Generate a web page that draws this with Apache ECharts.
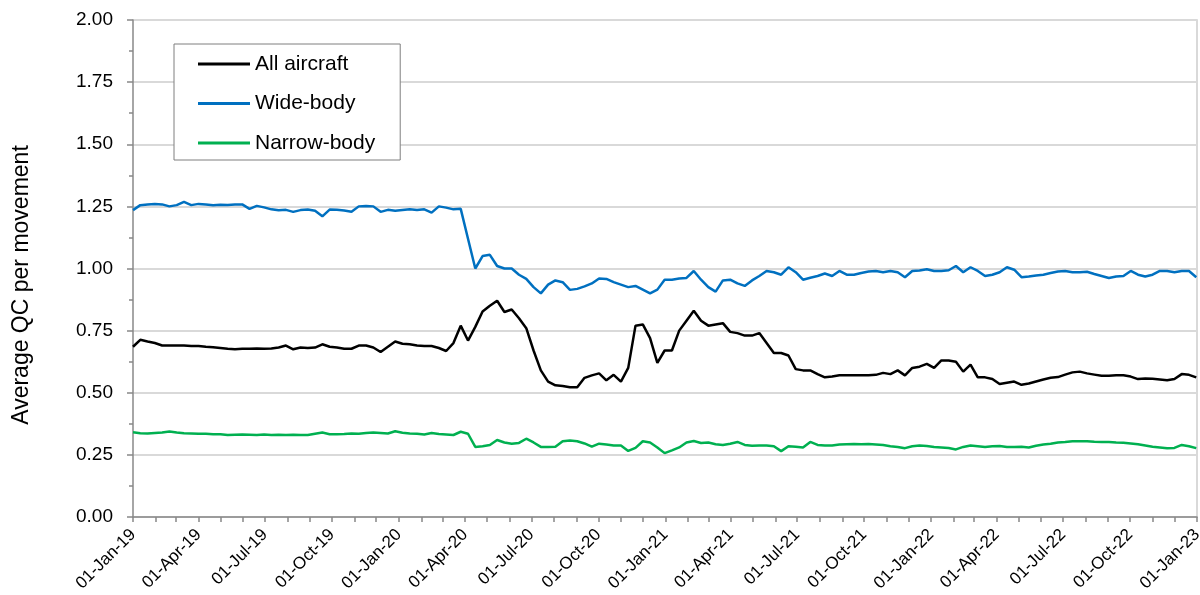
<!DOCTYPE html>
<html><head><meta charset="utf-8">
<script src="https://cdn.jsdelivr.net/npm/echarts@6/dist/echarts.min.js"></script>
<style>html,body{margin:0;padding:0;background:#fff}#c{width:1200px;height:595px}</style>
</head><body><div id="c"></div>
<script>
// Day offsets from 01-Jan-2019 (every 10 days)
const sampleDays = [0,10,20,30,40,50,60,70,80,90,100,110,120,130,140,150,160,170,180,190,
200,210,220,230,240,250,260,270,280,290,300,310,320,330,340,350,360,370,380,390,
400,410,420,430,440,450,460,470,480,490,500,510,520,530,540,550,560,570,580,590,
600,610,620,630,640,650,660,670,680,690,700,710,720,730,740,750,760,770,780,790,
800,810,820,830,840,850,860,870,880,890,900,910,920,930,940,950,960,970,980,990,
1000,1010,1020,1030,1040,1050,1060,1070,1080,1090,1100,1110,1120,1130,1140,1150,1160,1170,1180,1190,
1200,1210,1220,1230,1240,1250,1260,1270,1280,1290,1300,1310,1320,1330,1340,1350,1360,1370,1380,1390,
1400,1410,1420,1430,1440,1450,1460];

const allAircraft = [0.685,0.713,0.706,0.70,0.69,0.69,0.69,0.69,0.688,0.688,
0.685,0.683,0.68,0.677,0.675,0.677,0.677,0.678,0.677,0.678,
0.682,0.69,0.675,0.682,0.68,0.682,0.695,0.685,0.682,0.677,
0.677,0.69,0.69,0.682,0.664,0.685,0.706,0.697,0.695,0.69,
0.688,0.688,0.68,0.668,0.70,0.77,0.71,0.765,0.827,0.85,
0.87,0.825,0.835,0.80,0.76,0.67,0.59,0.545,0.53,0.527,
0.522,0.522,0.56,0.57,0.578,0.55,0.572,0.545,0.60,0.77,
0.775,0.72,0.62,0.67,0.67,0.75,0.79,0.83,0.79,0.77,
0.775,0.78,0.745,0.74,0.73,0.73,0.74,0.70,0.66,0.66,
0.65,0.595,0.59,0.59,0.575,0.562,0.565,0.57,0.57,0.57,
0.57,0.57,0.572,0.58,0.575,0.59,0.57,0.60,0.605,0.616,
0.60,0.63,0.63,0.625,0.585,0.613,0.562,0.562,0.555,0.535,
0.54,0.545,0.532,0.537,0.545,0.553,0.56,0.563,0.573,0.582,
0.585,0.578,0.573,0.568,0.568,0.57,0.57,0.565,0.555,0.557,
0.556,0.553,0.55,0.555,0.575,0.572,0.562];

const wideBody = [1.235,1.255,1.258,1.26,1.258,1.25,1.255,1.268,1.255,1.26,
1.258,1.255,1.257,1.256,1.258,1.258,1.24,1.252,1.246,1.238,
1.234,1.236,1.228,1.235,1.237,1.232,1.21,1.237,1.236,1.233,
1.228,1.25,1.252,1.25,1.228,1.236,1.232,1.235,1.238,1.235,
1.238,1.225,1.25,1.245,1.238,1.24,1.12,1.0,1.05,1.055,
1.01,1.0,1.0,0.975,0.958,0.925,0.9,0.935,0.952,0.945,
0.914,0.918,0.928,0.94,0.96,0.958,0.945,0.935,0.925,0.93,
0.915,0.9,0.915,0.955,0.955,0.96,0.962,0.99,0.955,0.925,
0.907,0.952,0.955,0.94,0.93,0.952,0.97,0.99,0.985,0.975,
1.005,0.985,0.955,0.963,0.97,0.98,0.97,0.99,0.975,0.975,
0.982,0.988,0.99,0.985,0.99,0.985,0.965,0.99,0.992,0.997,
0.99,0.99,0.993,1.01,0.985,1.005,0.99,0.97,0.975,0.985,
1.005,0.995,0.965,0.968,0.972,0.975,0.982,0.988,0.99,0.985,
0.985,0.987,0.978,0.97,0.962,0.968,0.97,0.99,0.975,0.968,
0.975,0.99,0.99,0.985,0.99,0.99,0.965];

const narrowBody = [0.341,0.337,0.336,0.338,0.34,0.344,0.34,0.337,0.336,0.335,
0.335,0.333,0.333,0.33,0.331,0.332,0.331,0.33,0.332,0.33,
0.331,0.33,0.331,0.33,0.33,0.335,0.34,0.333,0.333,0.334,
0.336,0.335,0.338,0.34,0.338,0.336,0.345,0.339,0.336,0.335,
0.332,0.338,0.334,0.332,0.33,0.343,0.335,0.282,0.285,0.29,
0.31,0.30,0.295,0.298,0.315,0.30,0.282,0.282,0.283,0.305,
0.308,0.305,0.296,0.283,0.295,0.292,0.288,0.288,0.266,0.278,
0.305,0.30,0.28,0.257,0.268,0.28,0.30,0.306,0.298,0.30,
0.293,0.29,0.295,0.302,0.29,0.287,0.288,0.288,0.285,0.265,
0.285,0.283,0.28,0.302,0.29,0.288,0.288,0.292,0.293,0.294,
0.293,0.294,0.292,0.29,0.285,0.282,0.277,0.285,0.288,0.286,
0.282,0.28,0.278,0.272,0.282,0.288,0.285,0.282,0.285,0.286,
0.282,0.282,0.283,0.28,0.287,0.292,0.295,0.30,0.302,0.305,
0.305,0.305,0.303,0.302,0.302,0.30,0.299,0.296,0.293,0.288,
0.283,0.28,0.277,0.278,0.29,0.285,0.277];

const seriesNames = ['All aircraft','Wide-body','Narrow-body'];
const yTitle = 'Average QC per movement';
const monthNames = ['Jan','Feb','Mar','Apr','May','Jun','Jul','Aug','Sep','Oct','Nov','Dec'];

const DAY = 86400000;
const tStart = new Date(2019,0,1).getTime();
const tEnd = new Date(2023,0,1).getTime();
const toPairs = vals => vals.map((v,i) => [tStart + sampleDays[i]*DAY, v]);
const fmtDate = val => {
  const d = new Date(val);
  const dd = String(d.getDate()).padStart(2,'0');
  return dd + '-' + monthNames[d.getMonth()] + '-' + String(d.getFullYear()).slice(2);
};

const FONT = 'Liberation Sans, Arial, sans-serif';
const chart = echarts.init(document.getElementById('c'), null, {renderer:'canvas'});
chart.setOption({
  animation:false,
  backgroundColor:'#fff',
  grid:{left:133, right:3, top:20, bottom:78, containLabel:false, outerBoundsMode:'none'},
  legend:{
    orient:'vertical', left:174, top:44,
    data:seriesNames,
    icon:'rect', itemWidth:52, itemHeight:3, itemGap:17.5, itemTextGap:4,
    padding:[9,25,6,24],
    borderColor:'#7f7f7f', borderWidth:1, backgroundColor:'#fff',
    textStyle:{fontFamily:FONT, fontSize:21, color:'#000', lineHeight:22}
  },
  graphic:[{
    type:'text', x:22, y:285, rotation:Math.PI/2,
    style:{text:yTitle, font:'23px Liberation Sans, Arial, sans-serif', fill:'#000',
      textAlign:'center', textVerticalAlign:'middle'}
  }],
  xAxis:[{
    type:'time', min:tStart, max:tEnd, splitNumber:16,
    minInterval:85*DAY, maxInterval:95*DAY,
    axisLine:{lineStyle:{color:'#888', width:1.5}},
    axisTick:{show:true, length:5, lineStyle:{color:'#888', width:1.5}},
    splitLine:{show:false},
    axisLabel:{rotate:45, fontFamily:FONT, fontSize:17, color:'#000', margin:15,
      showMinLabel:true, showMaxLabel:true, hideOverlap:false, formatter:fmtDate}
  },{
    type:'time', min:tStart, max:tEnd, splitNumber:48,
    minInterval:27*DAY, maxInterval:33*DAY,
    position:'bottom',
    axisLine:{show:false},
    axisTick:{show:true, length:5, lineStyle:{color:'#888', width:1.5}},
    splitLine:{show:false},
    axisLabel:{show:false}
  }],
  yAxis:[{
    type:'value', min:0, max:2, interval:0.25,
    axisLine:{show:true, lineStyle:{color:'#888', width:1.5}},
    axisTick:{show:true, length:6, lineStyle:{color:'#888', width:1.5}},
    minorTick:{show:true, splitNumber:2, length:4, lineStyle:{color:'#888', width:1.5}},
    splitLine:{show:true, lineStyle:{color:'#d9d9d9', width:2}},
    axisLabel:{fontFamily:FONT, fontSize:19, color:'#000', margin:20,
      formatter:v => v.toFixed(2)}
  },{
    type:'value', min:0, max:2, interval:0.25, position:'right',
    axisLine:{show:true, lineStyle:{color:'#d9d9d9', width:2}},
    axisTick:{show:false}, axisLabel:{show:false}, splitLine:{show:false}
  }],
  series:[
    {name:seriesNames[0], type:'line', data:toPairs(allAircraft), showSymbol:false, symbol:'none',
      lineStyle:{color:'#000000', width:2.5}, itemStyle:{color:'#000000'}, z:3},
    {name:seriesNames[1], type:'line', data:toPairs(wideBody), showSymbol:false, symbol:'none',
      lineStyle:{color:'#0070C0', width:2.5}, itemStyle:{color:'#0070C0'}, z:2},
    {name:seriesNames[2], type:'line', data:toPairs(narrowBody), showSymbol:false, symbol:'none',
      lineStyle:{color:'#00B050', width:2.5}, itemStyle:{color:'#00B050'}, z:2}
  ]
});
</script></body></html>
